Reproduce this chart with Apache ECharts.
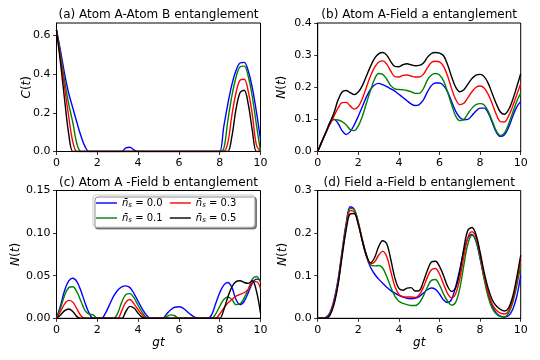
<!DOCTYPE html>
<html>
<head>
<meta charset="utf-8">
<script src="https://cdn.jsdelivr.net/npm/echarts@6/dist/echarts.min.js"></script>
<style>
  html, body { margin: 0; padding: 0; background: #fff; }
  #chart { width: 540px; height: 360px; }
</style>
</head>
<body>
<div id="chart"></div>
<script>
// gt sampled every 0.2
var gt = [
  0, 0.2, 0.4, 0.6, 0.8, 1, 1.2, 1.4, 1.6, 1.8,
  2, 2.2, 2.4, 2.6, 2.8, 3, 3.2, 3.4, 3.6, 3.8,
  4, 4.2, 4.4, 4.6, 4.8, 5, 5.2, 5.4, 5.6, 5.8,
  6, 6.2, 6.4, 6.6, 6.8, 7, 7.2, 7.4, 7.6, 7.8,
  8, 8.2, 8.4, 8.6, 8.8, 9, 9.2, 9.4, 9.6, 9.8,
  10
];
var nsLabels = ['0.0', '0.1', '0.3', '0.5'];
var xTicks = [0, 2, 4, 6, 8, 10];
var yTicksA = [0, 0.2, 0.4, 0.6];
var yTicksB = [0, 0.1, 0.2, 0.3, 0.4];
var yTicksC = [0, 0.05, 0.1, 0.15];
var yTicksD = [0, 0.1, 0.2, 0.3];

// (a) Atom A-Atom B, C(t)
var cA_00 = [
  0.628, 0.52, 0.40, 0.30, 0.225, 0.15, 0.08, 0.025, 0, 0,
  0, 0, 0, 0, 0, 0, 0, 0.019, 0.022, 0.008,
  0, 0, 0, 0, 0, 0, 0, 0, 0, 0,
  0, 0, 0, 0, 0, 0, 0, 0, 0, 0,
  0, 0.129, 0.247, 0.347, 0.419, 0.458, 0.461, 0.417, 0.329, 0.205,
  0.061
];
var cA_01 = [
  0.628, 0.50, 0.365, 0.245, 0.15, 0.04, 0, 0, 0, 0,
  0, 0, 0, 0, 0, 0, 0, 0, 0, 0,
  0, 0, 0, 0, 0, 0, 0, 0, 0, 0,
  0, 0, 0, 0, 0, 0, 0, 0, 0, 0,
  0, 0.015, 0.161, 0.289, 0.384, 0.438, 0.442, 0.388, 0.283, 0.138,
  0
];
var cA_03 = [
  0.628, 0.48, 0.33, 0.18, 0.05, 0, 0, 0, 0, 0,
  0, 0, 0, 0, 0, 0, 0, 0, 0, 0,
  0, 0, 0, 0, 0, 0, 0, 0, 0, 0,
  0, 0, 0, 0, 0, 0, 0, 0, 0, 0,
  0, 0, 0.046, 0.19, 0.304, 0.369, 0.374, 0.311, 0.19, 0.033,
  0
];
var cA_05 = [
  0.628, 0.455, 0.265, 0.09, 0, 0, 0, 0, 0, 0,
  0, 0, 0, 0, 0, 0, 0, 0, 0, 0,
  0, 0, 0, 0, 0, 0, 0, 0, 0, 0,
  0, 0, 0, 0, 0, 0, 0, 0, 0, 0,
  0, 0, 0, 0.08, 0.219, 0.305, 0.317, 0.245, 0.108, 0,
  0
];

// (b) Atom A-Field a, N(t)
var nB_00 = [
  0, 0.03, 0.058, 0.09, 0.1, 0.088, 0.065, 0.053, 0.062, 0.083,
  0.11, 0.14, 0.17, 0.193, 0.207, 0.212, 0.208, 0.202, 0.195, 0.188,
  0.178, 0.168, 0.158, 0.148, 0.143, 0.146, 0.16, 0.185, 0.205, 0.213,
  0.213, 0.205, 0.185, 0.155, 0.125, 0.106, 0.099, 0.1, 0.112, 0.126,
  0.135, 0.135, 0.12, 0.09, 0.06, 0.047, 0.052, 0.075, 0.108, 0.138,
  0.156
];
var nB_01 = [
  0, 0.03, 0.058, 0.085, 0.1, 0.098, 0.093, 0.083, 0.068, 0.065,
  0.08, 0.11, 0.15, 0.19, 0.225, 0.243, 0.24, 0.225, 0.205, 0.195,
  0.193, 0.192, 0.19, 0.186, 0.181, 0.181, 0.195, 0.222, 0.238, 0.243,
  0.238, 0.22, 0.185, 0.145, 0.11, 0.096, 0.1, 0.118, 0.135, 0.146,
  0.149, 0.145, 0.125, 0.095, 0.064, 0.05, 0.058, 0.085, 0.12, 0.155,
  0.182
];
var nB_03 = [
  0, 0.03, 0.058, 0.085, 0.11, 0.135, 0.152, 0.153, 0.142, 0.132,
  0.14, 0.165, 0.2, 0.235, 0.262, 0.278, 0.282, 0.272, 0.25, 0.233,
  0.232, 0.237, 0.238, 0.235, 0.232, 0.232, 0.24, 0.26, 0.277, 0.281,
  0.279, 0.265, 0.235, 0.195, 0.162, 0.146, 0.15, 0.168, 0.186, 0.2,
  0.204, 0.198, 0.178, 0.148, 0.115, 0.093, 0.092, 0.11, 0.14, 0.175,
  0.211
];
var nB_05 = [
  0, 0.03, 0.06, 0.09, 0.12, 0.16, 0.185, 0.19, 0.183, 0.177,
  0.185, 0.205, 0.235, 0.265, 0.29, 0.304, 0.308, 0.3, 0.28, 0.265,
  0.264, 0.27, 0.273, 0.27, 0.267, 0.268, 0.275, 0.293, 0.305, 0.308,
  0.306, 0.298, 0.27, 0.232, 0.2, 0.186, 0.192, 0.21, 0.227, 0.238,
  0.24, 0.233, 0.212, 0.18, 0.148, 0.123, 0.116, 0.13, 0.16, 0.2,
  0.242
];

// (c) Atom A-Field b, N(t)
var nC_00 = [
  0, 0.015, 0.033, 0.044, 0.047, 0.043, 0.032, 0.018, 0.006, 0,
  0, 0, 0.006, 0.016, 0.026, 0.033, 0.037, 0.038, 0.036, 0.029,
  0.02, 0.011, 0.004, 0, 0, 0, 0, 0.005, 0.01, 0.013,
  0.0135, 0.012, 0.008, 0.004, 0.001, 0, 0, 0, 0.004, 0.017,
  0.03, 0.039, 0.042, 0.036, 0.022, 0.016, 0.02, 0.03, 0.041, 0.046,
  0.045
];
var nC_01 = [
  0, 0.012, 0.027, 0.036, 0.037, 0.031, 0.02, 0.009, 0.005, 0.004,
  0, 0, 0, 0, 0, 0.006, 0.019, 0.028, 0.029, 0.024,
  0.015, 0.007, 0.001, 0, 0, 0, 0, 0.002, 0.004, 0.003,
  0, 0, 0, 0, 0, 0, 0, 0, 0, 0.005,
  0.014, 0.022, 0.025, 0.022, 0.016, 0.017, 0.024, 0.034, 0.046, 0.049,
  0.042
];
var nC_03 = [
  0, 0.008, 0.017, 0.021, 0.019, 0.011, 0.003, 0, 0, 0,
  0, 0, 0, 0, 0, 0, 0.009, 0.019, 0.022, 0.017,
  0.01, 0.004, 0, 0, 0, 0, 0, 0, 0, 0,
  0, 0, 0, 0, 0, 0, 0, 0, 0, 0,
  0.005, 0.012, 0.018, 0.022, 0.026, 0.028, 0.03, 0.034, 0.042, 0.043,
  0.035
];
var nC_05 = [
  0, 0.004, 0.009, 0.011, 0.008, 0.002, 0, 0, 0, 0,
  0, 0, 0, 0, 0, 0, 0, 0.008, 0.014, 0.012,
  0.006, 0.001, 0, 0, 0, 0, 0, 0, 0, 0,
  0, 0, 0, 0, 0, 0, 0, 0, 0, 0,
  0, 0.01, 0.025, 0.037, 0.043, 0.044, 0.042, 0.041, 0.044, 0.032,
  0.006
];

// (d) Field a-Field b, N(t)
var nD_00 = [
  0, 0, 0.002, 0.013, 0.042, 0.09, 0.158, 0.222, 0.262, 0.256,
  0.225, 0.18, 0.145, 0.12, 0.104, 0.092, 0.082, 0.073, 0.065, 0.059,
  0.054, 0.05, 0.047, 0.046, 0.047, 0.051, 0.059, 0.067, 0.071, 0.068,
  0.057, 0.043, 0.037, 0.045, 0.075, 0.115, 0.158, 0.188, 0.197, 0.18,
  0.14, 0.095, 0.055, 0.028, 0.012, 0.005, 0.003, 0.006, 0.02, 0.05,
  0.1
];
var nD_01 = [
  0, 0, 0.001, 0.01, 0.038, 0.085, 0.152, 0.217, 0.258, 0.255,
  0.225, 0.185, 0.148, 0.126, 0.123, 0.124, 0.118, 0.098, 0.073, 0.052,
  0.04, 0.035, 0.032, 0.03, 0.03, 0.036, 0.052, 0.073, 0.089, 0.091,
  0.078, 0.057, 0.04, 0.031, 0.038, 0.07, 0.125, 0.175, 0.195, 0.182,
  0.142, 0.092, 0.05, 0.023, 0.01, 0.004, 0.003, 0.012, 0.035, 0.075,
  0.125
];
var nD_03 = [
  0, 0, 0, 0.009, 0.036, 0.082, 0.15, 0.213, 0.253, 0.25,
  0.222, 0.183, 0.148, 0.128, 0.132, 0.148, 0.157, 0.145, 0.11, 0.075,
  0.056, 0.051, 0.05, 0.05, 0.049, 0.055, 0.072, 0.096, 0.114, 0.117,
  0.104, 0.08, 0.058, 0.048, 0.058, 0.093, 0.145, 0.19, 0.203, 0.19,
  0.15, 0.1, 0.06, 0.033, 0.019, 0.012, 0.01, 0.017, 0.042, 0.085,
  0.138
];
var nD_05 = [
  0, 0, 0, 0.007, 0.032, 0.078, 0.145, 0.207, 0.245, 0.246,
  0.22, 0.182, 0.148, 0.13, 0.142, 0.168, 0.182, 0.175, 0.138, 0.095,
  0.07, 0.066, 0.071, 0.072, 0.064, 0.065, 0.085, 0.112, 0.132, 0.134,
  0.122, 0.1, 0.075, 0.063, 0.072, 0.11, 0.165, 0.207, 0.213, 0.196,
  0.155, 0.108, 0.07, 0.043, 0.029, 0.021, 0.017, 0.024, 0.05, 0.095,
  0.148
];

var FONT = 'DejaVu Sans';
var colors = ['#0000ff', '#008000', '#ff0000', '#000000'];
var seriesNames = nsLabels.map(function (s) { return 'n\u0304s = ' + s; });

var panels = [
  { title: '(a) Atom A-Atom B entanglement', yName: '{i|C}{n|(}{i|t}{n|)}', yMax: 0.665, yStep: 0.2,
    ticks: yTicksA, dec: 1, nameGap: 23.5, data: [cA_00, cA_01, cA_03, cA_05], xName: '',
    grid: { left: 56.5, top: 23, width: 204, height: 128.5 } },
  { title: '(b) Atom A-Field a entanglement', yName: '{i|N}{n|(}{i|t}{n|)}', yMax: 0.4, yStep: 0.1,
    ticks: yTicksB, dec: 1, nameGap: 30, data: [nB_00, nB_01, nB_03, nB_05], xName: '',
    grid: { left: 317.7, top: 23, width: 203, height: 128.5 } },
  { title: '(c) Atom A -Field b entanglement', yName: '{i|N}{n|(}{i|t}{n|)}', yMax: 0.15, yStep: 0.05,
    ticks: yTicksC, dec: 2, nameGap: 35, data: [nC_00, nC_01, nC_03, nC_05], xName: '{i|gt}',
    grid: { left: 56.5, top: 190.5, width: 204, height: 127.8 } },
  { title: '(d) Field a-Field b entanglement', yName: '{i|N}{n|(}{i|t}{n|)}', yMax: 0.3, yStep: 0.1,
    ticks: yTicksD, dec: 1, nameGap: 28.5, data: [nD_00, nD_01, nD_03, nD_05], xName: '{i|gt}',
    grid: { left: 317.7, top: 190.5, width: 203, height: 127.8 } }
];

var richName = {
  i: { fontFamily: FONT, fontSize: 12, fontStyle: 'italic', color: '#000' },
  n: { fontFamily: FONT, fontSize: 12, color: '#000' }
};

var grid = [], xAxis = [], yAxis = [], title = [], series = [];
panels.forEach(function (p, k) {
  grid.push(Object.assign({ show: true, borderColor: '#000', borderWidth: 1, backgroundColor: '#fff' }, p.grid));
  title.push({
    text: p.title, left: p.grid.left + p.grid.width / 2, top: p.grid.top - 14, textAlign: 'center', padding: 0,
    textStyle: { fontFamily: FONT, fontSize: 12, fontWeight: 'normal', color: '#000' }
  });
  xAxis.push({
    gridIndex: k, type: 'value', min: 0, max: 10, interval: 2,
    name: p.xName, nameLocation: 'middle', nameGap: 19, nameMoveOverlap: false,
    nameTextStyle: { fontFamily: FONT, fontSize: 12, color: '#000', rich: { i: { fontFamily: FONT, fontSize: 12, fontStyle: 'italic', color: '#000' } } },
    axisLine: { onZero: false, lineStyle: { color: '#000', width: 1 } },
    axisTick: { length: 3.5, lineStyle: { color: '#000', width: 0.8 }, customValues: xTicks },
    axisLabel: { margin: 6, fontFamily: FONT, fontSize: 11, color: '#000', customValues: xTicks },
    splitLine: { show: false }
  });
  yAxis.push({
    gridIndex: k, type: 'value', min: 0, max: p.yMax, interval: p.yStep,
    name: p.yName, nameLocation: 'middle', nameGap: p.nameGap, nameMoveOverlap: false,
    nameTextStyle: { fontFamily: FONT, fontSize: 12, color: '#000', rich: richName },
    axisLine: { lineStyle: { color: '#000', width: 1 } },
    axisTick: { length: 3.5, lineStyle: { color: '#000', width: 0.8 }, customValues: p.ticks },
    axisLabel: {
      margin: 6, fontFamily: FONT, fontSize: 11, color: '#000', customValues: p.ticks,
      formatter: (function (d) { return function (v) { return v.toFixed(d); }; })(p.dec)
    },
    splitLine: { show: false }
  });
  p.data.forEach(function (vals, j) {
    series.push({
      name: seriesNames[j], type: 'line', xAxisIndex: k, yAxisIndex: k,
      data: gt.map(function (t, i) { return [t, vals[i]]; }),
      symbol: 'none', smooth: 0.35, clip: true,
      lineStyle: { color: colors[j], width: 1.4 },
      itemStyle: { color: colors[j] },
      z: 2 + j
    });
  });
});

var chart = echarts.init(document.getElementById('chart'));
chart.setOption({
  animation: false,
  backgroundColor: '#fff',
  title: title,
  grid: grid,
  xAxis: xAxis,
  yAxis: yAxis,
  legend: {
    data: [seriesNames[0], seriesNames[2], seriesNames[1], seriesNames[3]],
    left: 93, top: 195, width: 180,
    icon: 'rect', itemWidth: 21, itemHeight: 1.4, itemGap: 4,
    padding: [3, 18, 3, 3],
    backgroundColor: '#fff', borderColor: '#cccccc', borderWidth: 1, borderRadius: 3,
    shadowColor: 'rgba(0,0,0,0.45)', shadowOffsetX: 2, shadowOffsetY: 2, shadowBlur: 0,
    formatter: function (name) {
      var v = name.split('= ')[1];
      var pad = (v === '0.0' || v === '0.1') ? '{g| }' : '';
      return '{i|n\u0304}{s|s}{t| = ' + v + '}' + pad;
    },
    textStyle: {
      fontFamily: FONT, fontSize: 10, color: '#000',
      rich: {
        i: { fontFamily: FONT, fontSize: 10, fontStyle: 'italic', color: '#000' },
        s: { fontFamily: FONT, fontSize: 7, fontStyle: 'italic', color: '#000', padding: [5, 0, 0, 0] },
        t: { fontFamily: FONT, fontSize: 10, color: '#000' },
        g: { width: 21 }
      }
    }
  },
  series: series
});
</script>
</body>
</html>
